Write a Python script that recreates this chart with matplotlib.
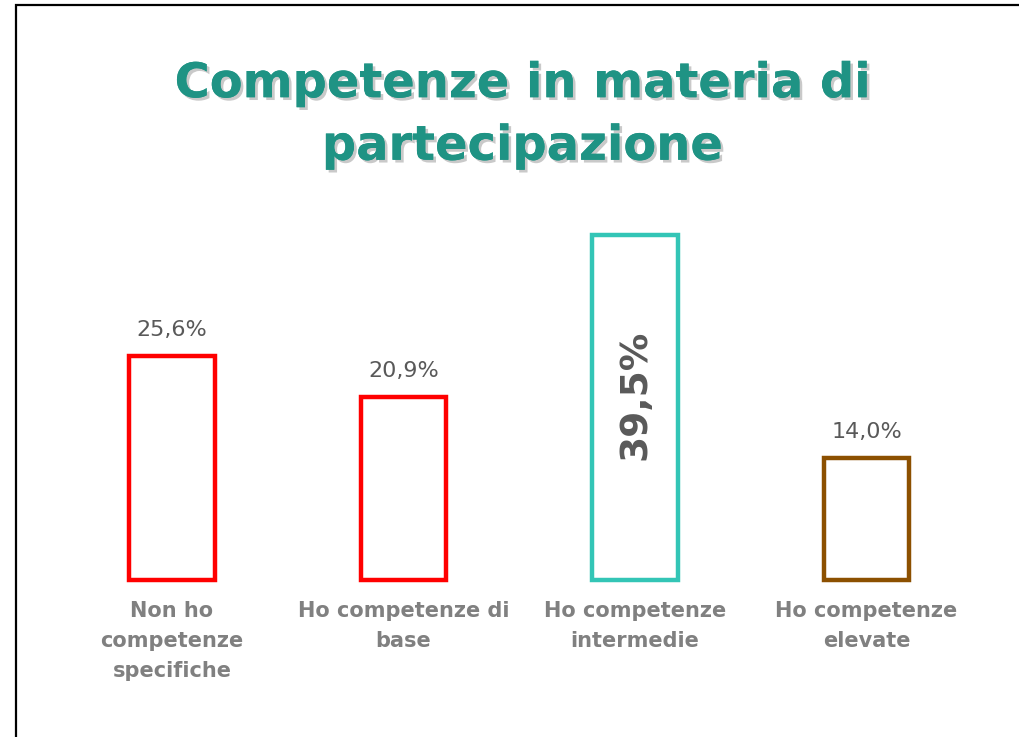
import matplotlib
matplotlib.use("Agg")
import matplotlib.pyplot as plt
import matplotlib.patheffects as pe
from matplotlib.patches import Rectangle

categories = ["Non ho\ncompetenze\nspecifiche", "Ho competenze di\nbase",
              "Ho competenze\nintermedie", "Ho competenze\nelevate"]
values = [25.6, 20.9, 39.5, 14.0]
value_labels = ["25,6%", "20,9%", "39,5%", "14,0%"]
edge_colors = ["#FF0000", "#FF0000", "#33C5B6", "#8C5000"]
title = "Competenze in materia di\npartecipazione"

W, H = 1019, 737
fig = plt.figure(figsize=(W / 100, H / 100), dpi=100)
fig.patch.set_facecolor("white")

# border
fig.patches.append(Rectangle((16 / W, -0.2), 1.5, 1.2 - 5 / H, transform=fig.transFigure,
                             fill=False, edgecolor="black", linewidth=1.6, zorder=0))

ax = fig.add_axes([56.25 / W, 1 - 580 / H, 926 / W, 393 / H])
ax.set_xlim(-0.5, 3.5)
ax.set_ylim(0, 45)
ax.axis("off")

x = range(len(values))
bars = ax.bar(x, values, width=0.37, facecolor="white", edgecolor=edge_colors,
              linewidth=3.2, clip_on=False)

for i, (v, lab) in enumerate(zip(values, value_labels)):
    if i == 2:
        ax.text(i, 21.2, lab, rotation=90, ha="center", va="center", fontsize=27,
                fontweight="bold", color="#595959", family="DejaVu Sans")
    else:
        ax.text(i, v + 3.0, lab, ha="center", va="center", fontsize=16,
                color="#595959", family="DejaVu Sans")
    ax.text(i, -2.4, categories[i], ha="center", va="top", fontsize=15,
            fontweight="bold", color="#808080", family="DejaVu Sans", linespacing=1.62)

fig.text(522 / W, 1 - 115 / H, title, ha="center", va="center", fontsize=34.5,
         fontweight="bold", color="#1F9384", family="DejaVu Sans", linespacing=1.42,
         path_effects=[pe.withSimplePatchShadow(offset=(2, -2), shadow_rgbFace="#888888", alpha=0.45),
                       pe.Normal()])

fig.savefig("out.png", dpi=100, facecolor="white")
